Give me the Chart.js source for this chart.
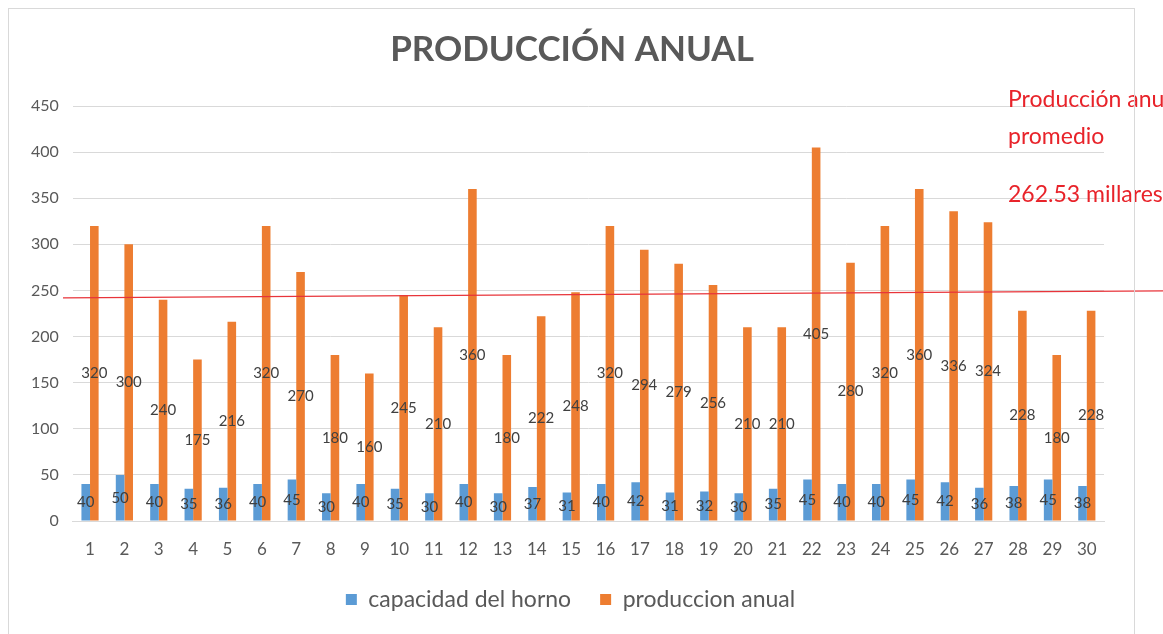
<!DOCTYPE html>
<html>
<head>
<meta charset="utf-8">
<script src="https://cdn.jsdelivr.net/npm/chart.js@4"></script>
<style>
  html, body { margin: 0; padding: 0; background: #fff; }
  #wrap { position: relative; width: 1163px; height: 634px; }
  #frame { position: absolute; left: 8px; top: 8px; width: 1127px; height: 626px; border: 1px solid #d9d9d9; border-bottom: none; box-sizing: border-box; pointer-events: none; }
</style>
</head>
<body>
<div id="wrap">
  <canvas id="produccion" width="1163" height="634"></canvas>
  <div id="frame"></div>
</div>
<script>
// data
const labels = ['1','2','3','4','5','6','7','8','9','10','11','12','13','14','15','16','17','18','19','20','21','22','23','24','25','26','27','28','29','30'];
const capacidad = [40, 50, 40, 35, 36, 40, 45, 30, 40, 35, 30, 40, 30, 37, 31, 40, 42, 31, 32, 30, 35, 45, 40, 40, 45, 42, 36, 38, 45, 38];
const produccion = [320, 300, 240, 175, 216, 320, 270, 180, 160, 245, 210, 360, 180, 222, 248, 320, 294, 279, 256, 210, 210, 405, 280, 320, 360, 336, 324, 228, 180, 228];
// hand drawn average line (value at left end, value at right end)
const avgLine = [242, 249.5];
const avgText = ['Producción anual', 'promedio', '262.53 millares'];

const gray = "#595959";

// labels in the middle of each bar
const barLabels = {
  id: "barLabels",
  afterDatasetsDraw(chart) {
    const ctx = chart.ctx;
    ctx.save();
    ctx.font = "15px Lato";
    ctx.fillStyle = "#404040";
    ctx.textAlign = "center";
    ctx.textBaseline = "middle";
    chart.data.datasets.forEach((ds, i) => {
      chart.getDatasetMeta(i).data.forEach((bar, j) => {
        const y = (bar.y + bar.base) / 2;
        ctx.fillText(ds.data[j], bar.x, y);
      });
    });
    ctx.restore();
  }
};

// red average line + note on the right
const avgNote = {
  id: "avgNote",
  afterLayout(chart) {
    // title and legend sit a bit right of centre in the original
    if (chart.titleBlock) chart.titleBlock.left += 23;
    if (chart.legend) chart.legend.left += 20;
  },
  afterDraw(chart) {
    const ctx = chart.ctx;
    const y = chart.scales.y;
    ctx.save();
    ctx.strokeStyle = "#e8343a";
    ctx.lineWidth = 1.2;
    ctx.beginPath();
    ctx.moveTo(63, y.getPixelForValue(avgLine[0]));
    ctx.lineTo(chart.width, y.getPixelForValue(avgLine[1]));
    ctx.stroke();

    ctx.fillStyle = "#e8232a";
    ctx.font = "23px Lato";
    ctx.textAlign = "left";
    ctx.textBaseline = "middle";
    ctx.fillText(avgText[0], 1008, 100);
    ctx.fillText(avgText[1], 1008, 137);
    ctx.fillText(avgText[2], 1008, 195);
    ctx.restore();
  }
};

const ctx = document.getElementById("produccion").getContext("2d");

new Chart(ctx, {
  type: 'bar',
  data: {
    labels: labels,
    datasets: [
      {
        label: 'capacidad del horno',
        data: capacidad,
        backgroundColor: "#5b9bd5",
        categoryPercentage: 0.5,
        barPercentage: 1
      },
      {
        label: 'produccion anual',
        data: produccion,
        backgroundColor: "#ed7d31",
        categoryPercentage: 0.5,
        barPercentage: 1
      }
    ]
  },
  options: {
    responsive: false,
    animation: false,
    layout: {
      padding: { left: 17, right: 59, top: 0, bottom: 13 }
    },
    plugins: {
      title: {
        display: true,
        text: 'PRODUCCIÓN ANUAL',
        color: gray,
        font: { family: "Lato", size: 35, weight: "bold" },
        padding: { top: 29, bottom: 35 }
      },
      legend: {
        position: "bottom",
        labels: {
          boxWidth: 11,
          boxHeight: 11,
          color: gray,
          padding: 29,
          font: { family: "Lato", size: 23 }
        }
      },
      tooltip: { enabled: false }
    },
    scales: {
      y: {
        min: 0,
        max: 450,
        ticks: {
          stepSize: 50,
          color: gray,
          padding: 14,
          font: { family: "Lato", size: 16 }
        },
        grid: { color: "#d9d9d9", drawTicks: false },
        border: { display: false }
      },
      x: {
        afterFit: (scale) => { scale.height = 38; },
        ticks: {
          color: gray,
          padding: 18,
          font: { family: "Lato", size: 17 }
        },
        grid: { display: false, drawTicks: false },
        border: { color: "#d9d9d9" }
      }
    }
  },
  plugins: [barLabels, avgNote]
});
</script>
</body>
</html>
